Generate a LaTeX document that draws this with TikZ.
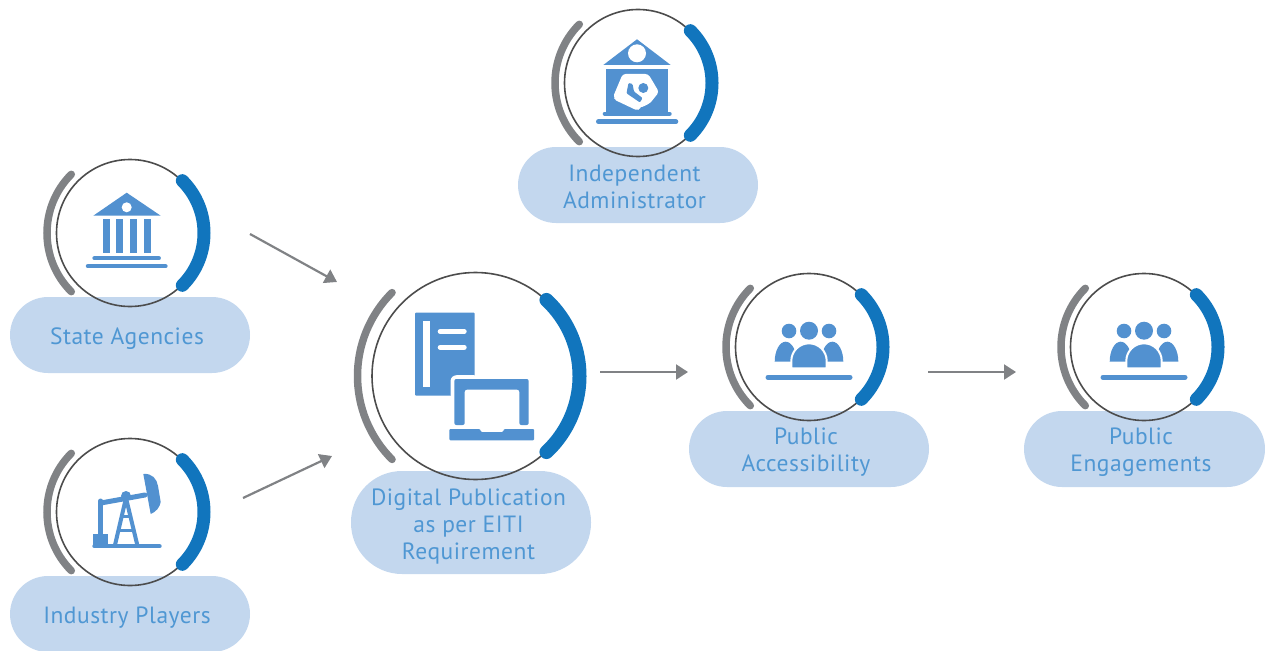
\documentclass[tikz,border=0pt]{standalone}
\usepackage{fontspec}
\setmainfont[LetterSpace=2.2]{PT Sans}
\usetikzlibrary{arrows.meta}
\definecolor{pillblue}{HTML}{C3D7EE}
\definecolor{textblue}{HTML}{4F97D3}
\definecolor{iconblue}{HTML}{5291D0}
\definecolor{ringblue}{HTML}{1175BD}
\definecolor{ringgray}{HTML}{808285}
\definecolor{linkgray}{HTML}{808285}
\tikzset{
  pill/.style={rounded corners=38pt, fill=pillblue, minimum width=240pt, minimum height=76pt, inner sep=0pt},
  pilltext/.style={text=textblue, align=center, font=\fontsize{23.5pt}{27pt}\selectfont, inner sep=0pt},
  ring/.style={circle, draw=black!70, line width=1.6pt, minimum size=147pt, inner sep=0pt},
  grayarc/.style={draw=ringgray, line width=7.5pt, line cap=round},
  bluearc/.style={draw=ringblue, line width=13pt, line cap=round},
  link/.style={draw=linkgray, line width=2.2pt, -{Triangle[length=12pt,width=15pt]}},
  iconbar/.style={draw=iconblue, line cap=round},
  peopleicon/.pic={
    \fill[iconblue] (-20,-16) circle (7.3);
    \fill[iconblue] (20,-16) circle (7.3);
    \fill[iconblue] (0,-16.3) circle (9);
    \fill[iconblue] (-34.3,14.7) arc (-180:0:11 and 20) -- cycle;
    \fill[iconblue] (34.3,14.7) arc (0:-180:11 and 20) -- cycle;
    \filldraw[iconblue, draw=white, line width=2pt] (-17.7,21.3) -- (-17.7,14) arc (-180:0:17.7) -- (17.7,21.3) -- cycle;
    \draw[iconbar, line width=5pt] (-41,30.3) -- (41,30.3);
  }
}
\begin{document}
\begin{tikzpicture}[x=1pt, y=-1pt]
\useasboundingbox (0,0) rectangle (1265,650);

% pills
\node[pill] (adminpill) at (638,185){};
\node[pill] (statepill) at (130,335){};
\node[pill] (industrypill) at (130,614){};
\node[pill, minimum height=103pt, rounded corners=51pt] (digitalpill) at (471,522.5){};
\node[pill] (accesspill) at (809,449){};
\node[pill, minimum width=241pt] (engagepill) at (1144.5,449){};

% labels
\node[pilltext] (admintext) at (634.5,187.3){Independent\\Administrator};
\node[pilltext] (statetext) at (127,339){State Agencies};
\node[pilltext] (industrytext) at (127,618){Industry Players};
\node[pilltext] (digitaltext) at (468.5,526.5){Digital Publication\\as per EITI\\Requirement};
\node[pilltext] (accesstext) at (806,452.5){Public\\Accessibility};
\node[pilltext] (engagetext) at (1141,452.5){Public\\Engagements};

% rings
\node[ring] (admin) at (638,83){};
\node[ring] (state) at (130,233){};
\node[ring] (industry) at (130,512){};
\node[ring, minimum size=207pt] (digital) at (475.5,376){};
\node[ring] (access) at (809,347){};
\node[ring] (engage) at (1144,347){};

\draw[grayarc] (admin.center) ++(135:83) arc (135:225:83);
\draw[bluearc] (admin.center) ++(45:74) arc (45:-45:74);
\draw[grayarc] (state.center) ++(135:83) arc (135:225:83);
\draw[bluearc] (state.center) ++(45:74) arc (45:-45:74);
\draw[grayarc] (industry.center) ++(135:83) arc (135:225:83);
\draw[bluearc] (industry.center) ++(45:74) arc (45:-45:74);
\draw[grayarc] (digital.center) ++(135:118) arc (135:225:118);
\draw[bluearc, line width=14pt] (digital.center) ++(47:104) arc (47:-47:104);
\draw[grayarc] (access.center) ++(135:83) arc (135:225:83);
\draw[bluearc] (access.center) ++(45:74) arc (45:-45:74);
\draw[grayarc] (engage.center) ++(135:83) arc (135:225:83);
\draw[bluearc] (engage.center) ++(45:74) arc (45:-45:74);

% arrows
\coordinate (statestart) at (250,234);
\coordinate (stateend) at (337,282);
\coordinate (industrystart) at (243,498);
\coordinate (industryend) at (332,456);
\coordinate (digitalstart) at (600,372);
\coordinate (digitalend) at (688,372);
\coordinate (accessstart) at (928,372);
\coordinate (accessend) at (1016,372);
\draw[link] (statestart) -- (stateend);
\draw[link] (industrystart) -- (industryend);
\draw[link] (digitalstart) -- (digitalend);
\draw[link] (accessstart) -- (accessend);

% administrator icon
\fill[iconblue] (637,39.3) -- (670.7,65) -- (603.3,65) -- cycle;
\fill[white] (637,53.3) circle (9);
\fill[iconblue] (606,69.3) rectangle (668.3,111.7);
\draw[iconbar, line width=4pt] (604.7,113.7) -- (669.7,113.7);
\draw[iconbar, line width=5pt] (598.5,121.8) -- (675.8,121.8);
\fill[white, rounded corners=3pt] (622.7,74) -- (648.3,74) -- (659,92) -- (650,103.3) -- (640,108) -- (613,97) -- cycle;
\draw[white, line width=8pt, line cap=round] (618,97) -- (637,106);
\fill[iconblue, rounded corners=1pt] (628.5,83) -- (626.5,93.3) -- (640,102.5) -- (642.5,98) -- (634,91.5) -- (632.5,84) -- cycle;
\fill[iconblue] (643.3,88) circle (5);

% state icon
\fill[iconblue] (126.7,192.7) -- (160.7,215.7) -- (93.3,215.7) -- cycle;
\fill[white] (126.7,207.3) circle (5);
\fill[iconblue] (103,219) rectangle (110,252.7);
\fill[iconblue] (116,219) rectangle (123,252.7);
\fill[iconblue] (130,219) rectangle (137,252.7);
\fill[iconblue] (144,219) rectangle (151,252.7);
\draw[iconbar, line width=4.3pt] (94.5,258.2) -- (158.8,258.2);
\draw[iconbar, line width=4.3pt] (87.9,266.2) -- (165.5,266.2);

% industry icon
\draw[iconbar, line width=4pt] (94.3,546.3) -- (159.7,546.3);
\fill[iconblue] (93.3,534.3) rectangle (108.3,545);
\draw[iconbar, line width=5pt] (100.8,536) -- (100.8,501);
\draw[iconbar, line width=5pt] (100.8,503) -- (145,495);
\fill[iconblue] (143.3,474) .. controls (152,473) and (157,479) .. (158,486) -- (160.7,502) .. controls (160,507) and (156,512) .. (150.7,514) -- cycle;
\fill[iconblue] (126,496) circle (5);
\draw[iconblue, line width=4pt] (126,498) -- (115,545);
\draw[iconblue, line width=4pt] (126,498) -- (137.3,545);
\draw[iconblue, line width=3pt] (122,516) -- (131,516);
\draw[iconblue, line width=3pt] (118,530) -- (134.5,530);

% digital icon
\fill[iconblue, rounded corners=1pt] (415,312.7) rectangle (474.7,395.7);
\fill[white] (422.7,321) rectangle (430,387.3);
\draw[white, line width=5pt, line cap=round] (440.2,331.5) -- (464.2,331.5);
\draw[white, line width=5pt, line cap=round] (440.2,347.3) -- (464.2,347.3);
\fill[white, rounded corners=6pt] (450.5,400) -- (450.5,375.2) -- (480,375.2) -- (480,400) -- cycle;
\fill[iconblue, rounded corners=2pt] (454.3,425) -- (454.3,379) -- (528.7,379) -- (528.7,425) -- (519.3,425) -- (519.3,389.7) -- (464.7,389.7) -- (464.7,425) -- cycle;
\fill[iconblue, rounded corners=1pt] (449.3,429) -- (480,429) -- (481,432) -- (503,432) -- (504,429) -- (534,429) -- (534,440.3) -- (449.3,440.3) -- cycle;

% people icons
\pic at (809,347) {peopleicon};
\pic at (1144,347) {peopleicon};
\end{tikzpicture}
\end{document}
